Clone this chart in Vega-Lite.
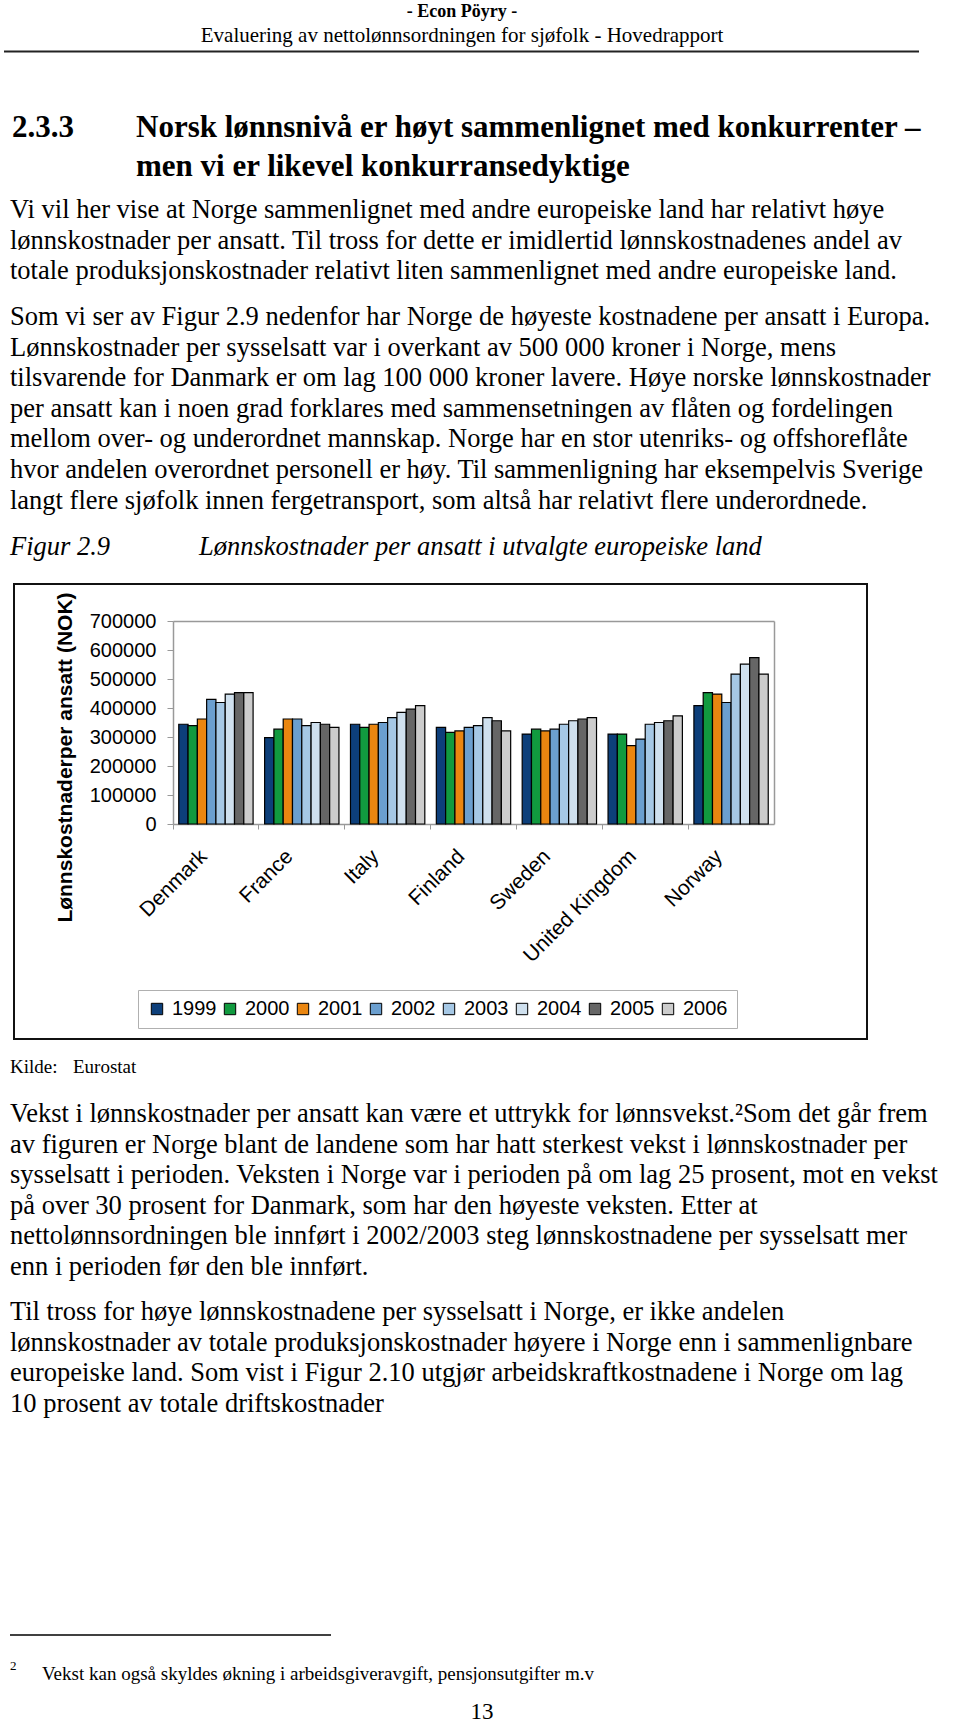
{
  "$schema": "https://vega.github.io/schema/vega-lite/v6.json",
  "padding": {"left": 3, "top": 0, "right": 0, "bottom": 0},
  "background": "white",
  "spacing": 0,
  "config": {"view": {"stroke": null}, "concat": {"spacing": 0}},
  "vconcat": [
    {
      "width": 947, "height": 62,
      "encoding": {"y": {"field": "row", "type": "ordinal", "scale": {"type": "point", "domain": [0, 1], "range": [12, 36], "padding": 0}, "axis": null}},
      "layer": [
        {"data": {"values": [{"row": 0, "text": "- Econ Pöyry -"}]},
         "mark": {"type": "text", "font": "Liberation Serif", "fontSize": 18, "fontWeight": "bold", "align": "center", "baseline": "middle"},
         "encoding": {"x": {"datum": 461, "type": "quantitative", "scale": {"domain": [13, 960]}, "axis": null}, "text": {"field": "text"}}},
        {"data": {"values": [{"row": 1, "text": "Evaluering av nettolønnsordningen for sjøfolk - Hovedrapport"}]},
         "mark": {"type": "text", "font": "Liberation Serif", "fontSize": 21, "align": "center", "baseline": "middle"},
         "encoding": {"x": {"datum": 461, "type": "quantitative", "scale": {"domain": [13, 960]}, "axis": null}, "text": {"field": "text"}}},
        {"data": {"values": [{"row": 1}]},
         "mark": {"type": "rule", "color": "#222", "strokeWidth": 2, "yOffset": 15.6},
         "encoding": {"x": {"datum": 3, "type": "quantitative", "scale": {"domain": [13, 960]}, "axis": null}, "x2": {"datum": 918}}}
      ]
    },
    {
      "width": 947, "height": 124,
      "encoding": {"y": {"field": "row", "type": "ordinal", "scale": {"type": "point", "domain": [0, 1], "range": [66, 105], "padding": 0}, "axis": null}},
      "layer": [
        {"data": {"values": [{"row": 0, "text": "2.3.3"}]},
         "mark": {"type": "text", "font": "Liberation Serif", "fontSize": 31, "fontWeight": "bold", "align": "left", "baseline": "middle"},
         "encoding": {"x": {"datum": 11, "type": "quantitative", "scale": {"domain": [13, 960]}, "axis": null}, "text": {"field": "text"}}},
        {"data": {"values": [{"row": 0, "text": "Norsk lønnsnivå er høyt sammenlignet med konkurrenter –"}, {"row": 1, "text": "men vi er likevel konkurransedyktige"}]},
         "mark": {"type": "text", "font": "Liberation Serif", "fontSize": 31, "fontWeight": "bold", "align": "left", "baseline": "middle"},
         "encoding": {"x": {"datum": 135, "type": "quantitative", "scale": {"domain": [13, 960]}, "axis": null}, "text": {"field": "text"}}}
      ]
    },
    {
      "width": 947, "height": 109,
      "data": {"values": [
        {"row": 0, "text": "Vi vil her vise at Norge sammenlignet med andre europeiske land har relativt høye"},
        {"row": 1, "text": "lønnskostnader per ansatt. Til tross for dette er imidlertid lønnskostnadenes andel av"},
        {"row": 2, "text": "totale produksjonskostnader relativt liten sammenlignet med andre europeiske land."}
      ]},
      "mark": {"type": "text", "font": "Liberation Serif", "fontSize": 26.5, "align": "left", "baseline": "middle"},
      "encoding": {
        "y": {"field": "row", "type": "ordinal", "scale": {"type": "point", "domain": [0, 1, 2], "range": [24, 85.2], "padding": 0}, "axis": null},
        "x": {"datum": 9, "type": "quantitative", "scale": {"domain": [13, 960]}, "axis": null},
        "text": {"field": "text"}
      }
    },
    {
      "width": 947, "height": 230,
      "data": {"values": [
        {"row": 0, "text": "Som vi ser av Figur 2.9 nedenfor har Norge de høyeste kostnadene per ansatt i Europa."},
        {"row": 1, "text": "Lønnskostnader per sysselsatt var i overkant av 500 000 kroner i Norge, mens"},
        {"row": 2, "text": "tilsvarende for Danmark er om lag 100 000 kroner lavere. Høye norske lønnskostnader"},
        {"row": 3, "text": "per ansatt kan i noen grad forklares med sammensetningen av flåten og fordelingen"},
        {"row": 4, "text": "mellom over- og underordnet mannskap. Norge har en stor utenriks- og offshoreflåte"},
        {"row": 5, "text": "hvor andelen overordnet personell er høy. Til sammenligning har eksempelvis Sverige"},
        {"row": 6, "text": "langt flere sjøfolk innen fergetransport, som altså har relativt flere underordnede."}
      ]},
      "mark": {"type": "text", "font": "Liberation Serif", "fontSize": 26.5, "align": "left", "baseline": "middle"},
      "encoding": {
        "y": {"field": "row", "type": "ordinal", "scale": {"type": "point", "domain": [0, 1, 2, 3, 4, 5, 6], "range": [22, 205.6], "padding": 0}, "axis": null},
        "x": {"datum": 9, "type": "quantitative", "scale": {"domain": [13, 960]}, "axis": null},
        "text": {"field": "text"}
      }
    },
    {
      "width": 947, "height": 58,
      "encoding": {"y": {"field": "row", "type": "ordinal", "scale": {"type": "point", "domain": [0], "range": [22, 22], "padding": 0}, "axis": null}},
      "layer": [
        {"data": {"values": [{"row": 0, "text": "Figur 2.9"}]},
         "mark": {"type": "text", "font": "Liberation Serif", "fontSize": 26.5, "fontStyle": "italic", "align": "left", "baseline": "middle"},
         "encoding": {"x": {"datum": 9, "type": "quantitative", "scale": {"domain": [13, 960]}, "axis": null}, "text": {"field": "text"}}},
        {"data": {"values": [{"row": 0, "text": "Lønnskostnader per ansatt i utvalgte europeiske land"}]},
         "mark": {"type": "text", "font": "Liberation Serif", "fontSize": 26.5, "fontStyle": "italic", "align": "left", "baseline": "middle"},
         "encoding": {"x": {"datum": 198, "type": "quantitative", "scale": {"domain": [13, 960]}, "axis": null}, "text": {"field": "text"}}}
      ]
    },
    {
      "width": 853, "height": 455,
      "view": {"stroke": "#111", "strokeWidth": 2},
      "data": {"values": [
        {"country": "Denmark", "year": "1999", "value": 344000},
        {"country": "Denmark", "year": "2000", "value": 339000},
        {"country": "Denmark", "year": "2001", "value": 362000},
        {"country": "Denmark", "year": "2002", "value": 430000},
        {"country": "Denmark", "year": "2003", "value": 419000},
        {"country": "Denmark", "year": "2004", "value": 448000},
        {"country": "Denmark", "year": "2005", "value": 453000},
        {"country": "Denmark", "year": "2006", "value": 453000},
        {"country": "France", "year": "1999", "value": 298000},
        {"country": "France", "year": "2000", "value": 327000},
        {"country": "France", "year": "2001", "value": 362000},
        {"country": "France", "year": "2002", "value": 362000},
        {"country": "France", "year": "2003", "value": 339000},
        {"country": "France", "year": "2004", "value": 350000},
        {"country": "France", "year": "2005", "value": 344000},
        {"country": "France", "year": "2006", "value": 333000},
        {"country": "Italy", "year": "1999", "value": 344000},
        {"country": "Italy", "year": "2000", "value": 333000},
        {"country": "Italy", "year": "2001", "value": 344000},
        {"country": "Italy", "year": "2002", "value": 350000},
        {"country": "Italy", "year": "2003", "value": 367000},
        {"country": "Italy", "year": "2004", "value": 385000},
        {"country": "Italy", "year": "2005", "value": 396000},
        {"country": "Italy", "year": "2006", "value": 408000},
        {"country": "Finland", "year": "1999", "value": 333000},
        {"country": "Finland", "year": "2000", "value": 316000},
        {"country": "Finland", "year": "2001", "value": 321000},
        {"country": "Finland", "year": "2002", "value": 333000},
        {"country": "Finland", "year": "2003", "value": 339000},
        {"country": "Finland", "year": "2004", "value": 367000},
        {"country": "Finland", "year": "2005", "value": 356000},
        {"country": "Finland", "year": "2006", "value": 321000},
        {"country": "Sweden", "year": "1999", "value": 310000},
        {"country": "Sweden", "year": "2000", "value": 327000},
        {"country": "Sweden", "year": "2001", "value": 321000},
        {"country": "Sweden", "year": "2002", "value": 327000},
        {"country": "Sweden", "year": "2003", "value": 344000},
        {"country": "Sweden", "year": "2004", "value": 356000},
        {"country": "Sweden", "year": "2005", "value": 362000},
        {"country": "Sweden", "year": "2006", "value": 367000},
        {"country": "United Kingdom", "year": "1999", "value": 310000},
        {"country": "United Kingdom", "year": "2000", "value": 310000},
        {"country": "United Kingdom", "year": "2001", "value": 270000},
        {"country": "United Kingdom", "year": "2002", "value": 293000},
        {"country": "United Kingdom", "year": "2003", "value": 344000},
        {"country": "United Kingdom", "year": "2004", "value": 350000},
        {"country": "United Kingdom", "year": "2005", "value": 356000},
        {"country": "United Kingdom", "year": "2006", "value": 373000},
        {"country": "Norway", "year": "1999", "value": 408000},
        {"country": "Norway", "year": "2000", "value": 453000},
        {"country": "Norway", "year": "2001", "value": 448000},
        {"country": "Norway", "year": "2002", "value": 419000},
        {"country": "Norway", "year": "2003", "value": 517000},
        {"country": "Norway", "year": "2004", "value": 551000},
        {"country": "Norway", "year": "2005", "value": 574000},
        {"country": "Norway", "year": "2006", "value": 517000}
      ]},
      "layer": [
        {
          "mark": {"type": "bar", "stroke": "#000", "strokeWidth": 1.2},
          "encoding": {
            "x": {"field": "country", "type": "nominal", "sort": ["Denmark", "France", "Italy", "Finland", "Sweden", "United Kingdom", "Norway"],
                  "scale": {"range": [159, 760], "paddingInner": 0, "paddingOuter": 0},
                  "axis": {"orient": "bottom", "offset": -215, "title": null, "bandPosition": 0, "labelOffset": -12,
                           "labelAngle": -45, "labelAlign": "right", "labelBaseline": "middle", "labelPadding": 24,
                           "labelFont": "Liberation Sans", "labelFontSize": 21, "labelColor": "#000", "labelOverlap": false, "labelLimit": 400,
                           "tickSize": 5, "tickColor": "#999", "domainColor": "#999", "domainWidth": 1.5}},
            "xOffset": {"field": "year", "type": "nominal", "scale": {"paddingInner": 0, "paddingOuter": 0.62}},
            "y": {"field": "value", "type": "quantitative",
                  "scale": {"domain": [0, 700000], "range": [240, 37]},
                  "axis": {"orient": "left", "offset": -159, "values": [0, 100000, 200000, 300000, 400000, 500000, 600000, 700000], "format": "d",
                           "grid": false, "labelFont": "Liberation Sans", "labelFontSize": 20, "labelColor": "#000", "labelPadding": 11,
                           "tickSize": 6, "tickColor": "#999", "domainColor": "#999", "domainWidth": 1.5,
                           "title": "Lønnskostnaderper ansatt (NOK)", "titleFont": "Liberation Sans", "titleFontSize": 21, "titleFontWeight": "bold",
                           "titleColor": "#000", "titleAngle": -90, "titleX": -98, "titleY": 173, "titleAlign": "center", "titleBaseline": "bottom"}},
            "color": {"field": "year", "type": "nominal",
                      "scale": {"domain": ["1999", "2000", "2001", "2002", "2003", "2004", "2005", "2006"],
                                "range": ["#0d3f7a", "#119a3f", "#ea8610", "#6b9fcf", "#a6c8e5", "#cfe0ee", "#666666", "#cccccc"]},
                      "legend": {"orient": "none", "legendX": 124, "legendY": 990, "direction": "horizontal", "title": null,
                                 "strokeColor": "#b0b0b0", "padding": 9, "symbolType": "square", "symbolSize": 130,
                                 "symbolStrokeColor": "#000", "symbolStrokeWidth": 1, "symbolOpacity": 1,
                                 "labelFont": "Liberation Sans", "labelFontSize": 20, "labelColor": "#000", "labelOffset": 5, "columnPadding": 3}}
          }
        },
        {
          "mark": {"type": "point", "opacity": 0},
          "encoding": {
            "x": {"field": "country", "type": "nominal", "sort": ["Denmark", "France", "Italy", "Finland", "Sweden", "United Kingdom", "Norway"],
                  "scale": {"range": [159, 760], "paddingInner": 0, "paddingOuter": 0},
                  "axis": {"orient": "top", "offset": -37, "title": null, "labels": false, "ticks": false, "domainColor": "#999", "domainWidth": 1.5}},
            "y": {"field": "value", "type": "quantitative",
                  "scale": {"domain": [0, 700000], "range": [240, 37]},
                  "axis": {"orient": "right", "offset": -93, "title": null, "labels": false, "ticks": false, "grid": false, "domainColor": "#999", "domainWidth": 1.5}}
          }
        }
      ],
      "resolve": {"axis": {"x": "independent", "y": "independent"}}
    },
    {
      "width": 947, "height": 52,
      "encoding": {"y": {"field": "row", "type": "ordinal", "scale": {"type": "point", "domain": [0], "range": [27, 27], "padding": 0}, "axis": null}},
      "layer": [
        {"data": {"values": [{"row": 0, "text": "Kilde:"}]},
         "mark": {"type": "text", "font": "Liberation Serif", "fontSize": 19, "align": "left", "baseline": "middle"},
         "encoding": {"x": {"datum": 9, "type": "quantitative", "scale": {"domain": [13, 960]}, "axis": null}, "text": {"field": "text"}}},
        {"data": {"values": [{"row": 0, "text": "Eurostat"}]},
         "mark": {"type": "text", "font": "Liberation Serif", "fontSize": 19, "align": "left", "baseline": "middle"},
         "encoding": {"x": {"datum": 72, "type": "quantitative", "scale": {"domain": [13, 960]}, "axis": null}, "text": {"field": "text"}}}
      ]
    },
    {
      "width": 947, "height": 198,
      "data": {"values": [
        {"row": 0, "text": "Vekst i lønnskostnader per ansatt kan være et uttrykk for lønnsvekst.²Som det går frem"},
        {"row": 1, "text": "av figuren er Norge blant de landene som har hatt sterkest vekst i lønnskostnader per"},
        {"row": 2, "text": "sysselsatt i perioden. Veksten i Norge var i perioden på om lag 25 prosent, mot en vekst"},
        {"row": 3, "text": "på over 30 prosent for Danmark, som har den høyeste veksten. Etter at"},
        {"row": 4, "text": "nettolønnsordningen ble innført i 2002/2003 steg lønnskostnadene per sysselsatt mer"},
        {"row": 5, "text": "enn i perioden før den ble innført."}
      ]},
      "mark": {"type": "text", "font": "Liberation Serif", "fontSize": 26.5, "align": "left", "baseline": "middle"},
      "encoding": {
        "y": {"field": "row", "type": "ordinal", "scale": {"type": "point", "domain": [0, 1, 2, 3, 4, 5], "range": [22, 175], "padding": 0}, "axis": null},
        "x": {"datum": 9, "type": "quantitative", "scale": {"domain": [13, 960]}, "axis": null},
        "text": {"field": "text"}
      }
    },
    {
      "width": 947, "height": 132,
      "data": {"values": [
        {"row": 0, "text": "Til tross for høye lønnskostnadene per sysselsatt i Norge, er ikke andelen"},
        {"row": 1, "text": "lønnskostnader av totale produksjonskostnader høyere i Norge enn i sammenlignbare"},
        {"row": 2, "text": "europeiske land. Som vist i Figur 2.10 utgjør arbeidskraftkostnadene i Norge om lag"},
        {"row": 3, "text": "10 prosent av totale driftskostnader"}
      ]},
      "mark": {"type": "text", "font": "Liberation Serif", "fontSize": 26.5, "align": "left", "baseline": "middle"},
      "encoding": {
        "y": {"field": "row", "type": "ordinal", "scale": {"type": "point", "domain": [0, 1, 2, 3], "range": [22, 113.8], "padding": 0}, "axis": null},
        "x": {"datum": 9, "type": "quantitative", "scale": {"domain": [13, 960]}, "axis": null},
        "text": {"field": "text"}
      }
    },
    {
      "width": 947, "height": 303,
      "encoding": {"y": {"field": "row", "type": "ordinal", "scale": {"type": "point", "domain": [0, 1, 2], "range": [213, 290], "padding": 0}, "axis": null}},
      "layer": [
        {"data": {"values": [{"row": 0}]},
         "mark": {"type": "rule", "color": "#000", "strokeWidth": 1.5},
         "encoding": {"x": {"datum": 9, "type": "quantitative", "scale": {"domain": [13, 960]}, "axis": null}, "x2": {"datum": 330}}},
        {"data": {"values": [{"row": 1, "text": "2"}]},
         "mark": {"type": "text", "font": "Liberation Serif", "fontSize": 13, "align": "left", "baseline": "middle", "yOffset": -8},
         "encoding": {"x": {"datum": 9, "type": "quantitative", "scale": {"domain": [13, 960]}, "axis": null}, "text": {"field": "text"}}},
        {"data": {"values": [{"row": 1, "text": "Vekst kan også skyldes økning i arbeidsgiveravgift, pensjonsutgifter m.v"}]},
         "mark": {"type": "text", "font": "Liberation Serif", "fontSize": 19, "align": "left", "baseline": "middle"},
         "encoding": {"x": {"datum": 41, "type": "quantitative", "scale": {"domain": [13, 960]}, "axis": null}, "text": {"field": "text"}}},
        {"data": {"values": [{"row": 2, "text": "13"}]},
         "mark": {"type": "text", "font": "Liberation Serif", "fontSize": 23, "align": "center", "baseline": "middle"},
         "encoding": {"x": {"datum": 481, "type": "quantitative", "scale": {"domain": [13, 960]}, "axis": null}, "text": {"field": "text"}}}
      ]
    }
  ]
}
